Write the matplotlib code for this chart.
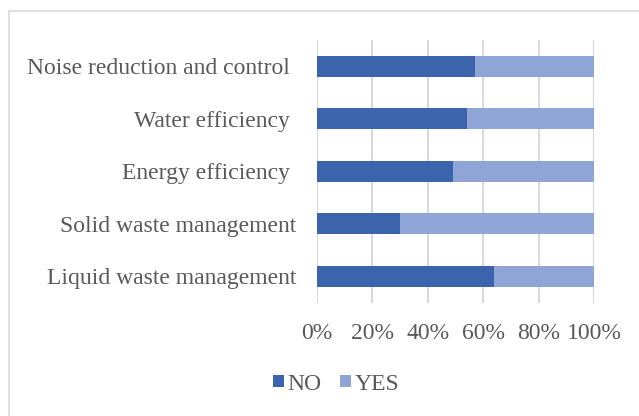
import matplotlib.pyplot as plt
from matplotlib.patches import Rectangle
from matplotlib.ticker import PercentFormatter

categories = [
    "Liquid waste management",
    "Solid waste management",
    "Energy efficiency ",
    "Water efficiency ",
    "Noise reduction and control ",
]
no_share = [64, 30, 49, 54, 57]
yes_share = [100 - v for v in no_share]

NO_COLOR = "#3c64ad"
YES_COLOR = "#8fa5d5"
TEXT_COLOR = "#595959"
GRID_COLOR = "#d9d9d9"

plt.rcParams["font.family"] = ["Liberation Serif", "DejaVu Serif"]

W, H = 639, 416
fig = plt.figure(figsize=(W / 100, H / 100), dpi=100)
# axes area in pixels: x 317..594, y 40..302
ax = fig.add_axes([317 / W, 1 - 302.5 / H, (594 - 317) / W, (302.5 - 40) / H])

y = range(len(categories))
ax.barh(y, no_share, height=0.4, color=NO_COLOR, label="NO", zorder=3)
ax.barh(y, yes_share, left=no_share, height=0.4, color=YES_COLOR, label="YES", zorder=3)

ax.set_xlim(0, 100)
ax.set_ylim(-0.5, len(categories) - 0.5)
ax.set_xticks([0, 20, 40, 60, 80, 100])
ax.xaxis.set_major_formatter(PercentFormatter(decimals=0))
ax.set_yticks(list(y))
ax.set_yticklabels(categories)
ax.grid(axis="x", color=GRID_COLOR, linewidth=1.5, zorder=0)
for s in ax.spines.values():
    s.set_visible(False)
ax.tick_params(axis="both", length=0, labelsize=17, labelcolor=TEXT_COLOR)
ax.tick_params(axis="y", pad=15)
ax.tick_params(axis="x", pad=15)

leg = fig.legend(
    loc="center", bbox_to_anchor=(336 / W, 1 - 384 / H), ncol=2, frameon=False,
    fontsize=17, handlelength=0.45, handleheight=0.45, handletextpad=0.15,
    columnspacing=0.8, labelcolor=TEXT_COLOR,
)

# chart border (only top and left visible in the crop)
fig.add_artist(Rectangle((9 / W, -0.1), 1.2, 1.1 - 11 / H,
                         transform=fig.transFigure, fill=False,
                         edgecolor=GRID_COLOR, linewidth=1.2))

fig.savefig("out.png", dpi=100)
